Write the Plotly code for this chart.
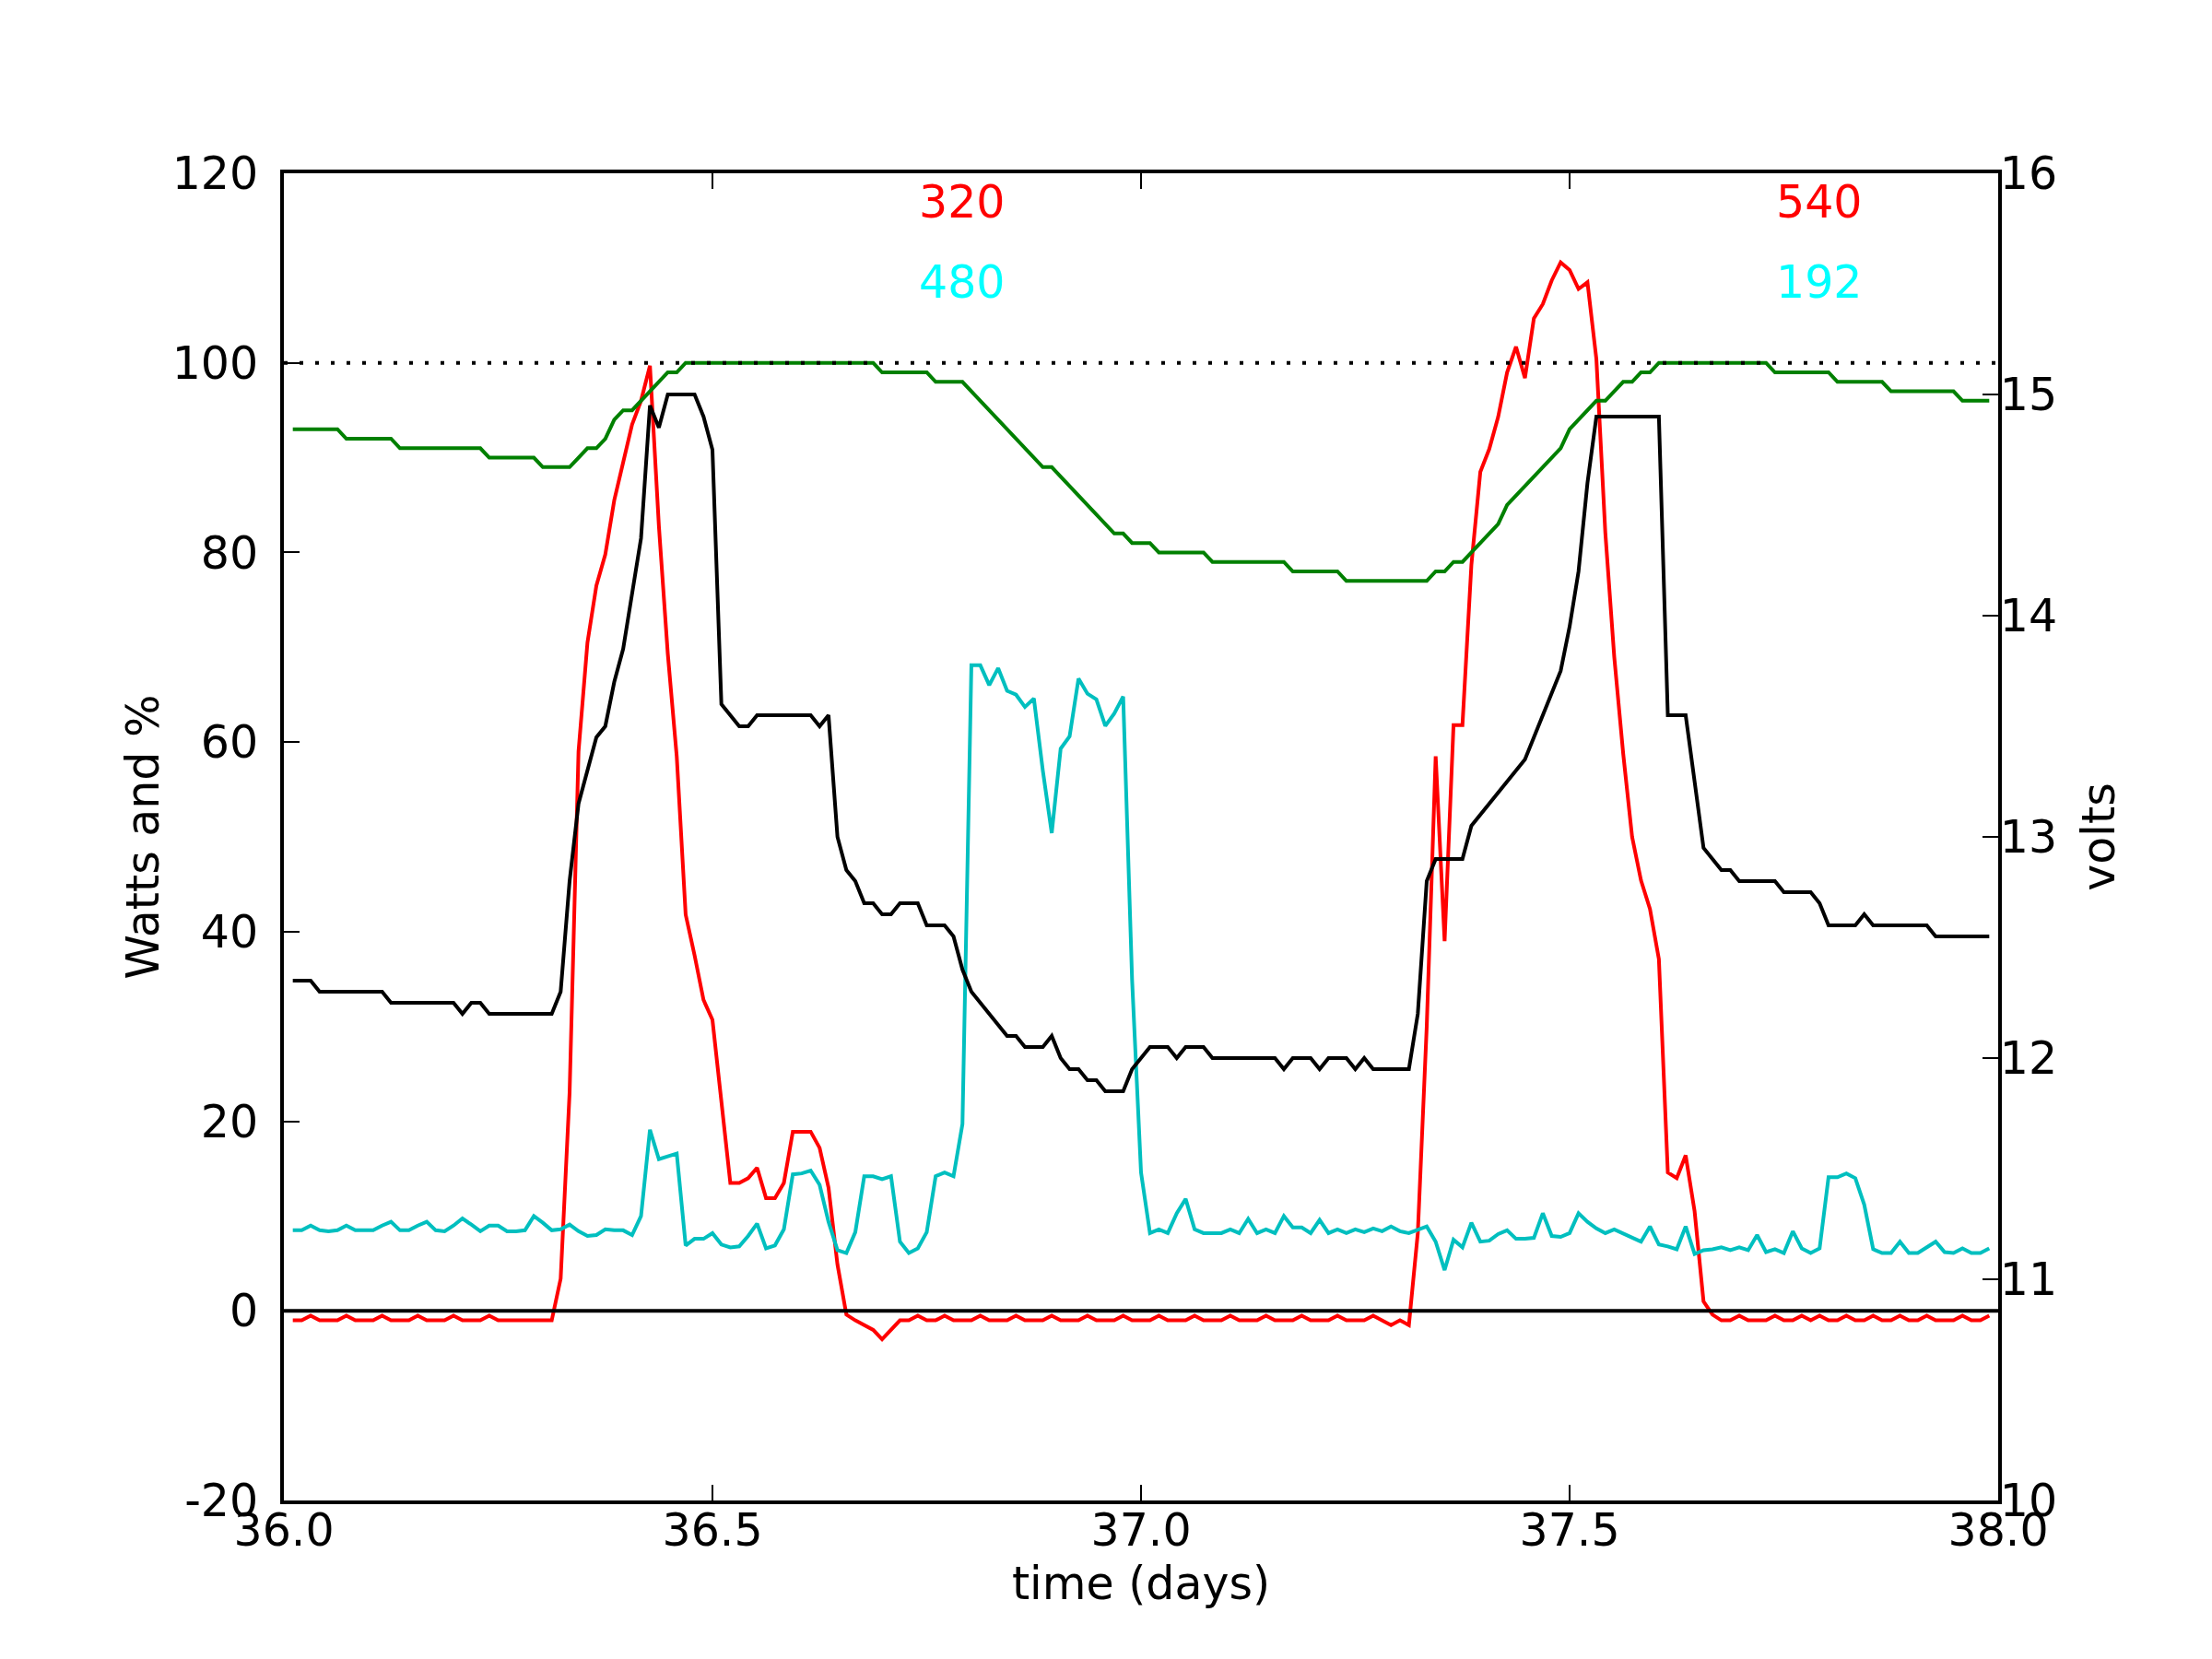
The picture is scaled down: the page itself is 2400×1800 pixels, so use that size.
import numpy as np
import plotly.graph_objects as go

# 15-minute samples (days)
t = 36 + np.arange(1, 192) / 96.0

watts_in = [
    -1, -1, -0.5, -1, -1, -1, -0.5, -1, -1, -1,
    -0.5, -1, -1, -1, -0.5, -1, -1, -1, -0.5, -1,
    -1, -1, -0.5, -1, -1, -1, -1, -1, -1, -1,
    3.4, 23, 59, 70.5, 76.5, 79.8, 85.5, 89.6, 93.5, 96,
    99.7, 82.8, 69.3, 58.5, 41.8, 37.5, 32.8, 30.7, 22.1, 13.5,
    13.5, 14, 15.1, 11.9, 11.9, 13.5, 18.9, 18.9, 18.9, 17.2,
    13, 4.9, -0.4, -1, -1.5, -2, -3, -2, -1, -1,
    -0.5, -1, -1, -0.5, -1, -1, -1, -0.5, -1, -1,
    -1, -0.5, -1, -1, -1, -0.5, -1, -1, -1, -0.5,
    -1, -1, -1, -0.5, -1, -1, -1, -0.5, -1, -1,
    -1, -0.5, -1, -1, -1, -0.5, -1, -1, -1, -0.5,
    -1, -1, -1, -0.5, -1, -1, -1, -0.5, -1, -1,
    -1, -0.5, -1, -1.5, -1, -1.5, 8.2, 30, 58.5, 39,
    61.8, 61.8, 78.7, 88.5, 90.9, 94.3, 99, 101.7, 98.4, 104.7,
    106.2, 108.7, 110.6, 109.8, 107.8, 108.5, 100.4, 82.1, 69, 58.8,
    50, 45.4, 42.4, 37.1, 14.6, 14, 16.4, 10.5, 1, -0.4,
    -1, -1, -0.5, -1, -1, -1, -0.5, -1, -1, -0.5,
    -1, -0.5, -1, -1, -0.5, -1, -1, -0.5, -1, -1,
    -0.5, -1, -1, -0.5, -1, -1, -1, -0.5, -1, -1, -0.5,
]

watts_out = [
    8.5, 8.5, 9, 8.5, 8.4, 8.5, 9, 8.5, 8.5, 8.5,
    9, 9.4, 8.5, 8.5, 9, 9.4, 8.5, 8.4, 9, 9.75,
    9.1, 8.4, 9, 9, 8.4, 8.4, 8.5, 10, 9.3, 8.5,
    8.6, 9.1, 8.4, 7.9, 8, 8.6, 8.5, 8.5, 8, 10,
    19.1, 16, 16.3, 16.6, 6.9, 7.6, 7.6, 8.2, 7, 6.7,
    6.8, 7.9, 9.2, 6.6, 6.9, 8.6, 14.4, 14.5, 14.8, 13.3,
    9.4, 6.4, 6.1, 8.3, 14.2, 14.2, 13.9, 14.2, 7.3, 6.1,
    6.6, 8.3, 14.2, 14.6, 14.2, 19.7, 68.1, 68.1, 66, 67.8,
    65.4, 65, 63.7, 64.6, 57, 50.4, 59.3, 60.6, 66.7, 65.1,
    64.5, 61.7, 63, 64.8, 34.9, 14.6, 8.2, 8.6, 8.2, 10.3,
    11.8, 8.6, 8.2, 8.2, 8.2, 8.6, 8.2, 9.7, 8.2, 8.6,
    8.2, 10, 8.8, 8.8, 8.2, 9.6, 8.2, 8.6, 8.2, 8.6,
    8.3, 8.7, 8.4, 8.9, 8.4, 8.2, 8.6, 8.9, 7.3, 4.3,
    7.5, 6.7, 9.3, 7.3, 7.4, 8.1, 8.5, 7.6, 7.6, 7.7,
    10.3, 7.9, 7.8, 8.2, 10.3, 9.4, 8.7, 8.2, 8.6, 8.2,
    7.7, 7.3, 8.9, 7, 6.8, 6.5, 8.9, 6, 6.4, 6.5,
    6.7, 6.4, 6.7, 6.4, 8, 6.2, 6.5, 6.1, 8.4, 6.6,
    6.1, 6.6, 14.1, 14.1, 14.5, 14, 11.2, 6.5, 6.1, 6.1,
    7.3, 6.1, 6.1, 6.7, 7.3, 6.2, 6.1, 6.6, 6.1, 6.1, 6.6,
]

charge_pct = [
    93, 93, 93, 93, 93, 93, 92, 92, 92, 92,
    92, 92, 91, 91, 91, 91, 91, 91, 91, 91,
    91, 91, 90, 90, 90, 90, 90, 90, 89, 89,
    89, 89, 90, 91, 91, 92, 94, 95, 95, 96,
    97, 98, 99, 99, 100, 100, 100, 100, 100, 100,
    100, 100, 100, 100, 100, 100, 100, 100, 100, 100,
    100, 100, 100, 100, 100, 100, 99, 99, 99, 99,
    99, 99, 98, 98, 98, 98, 97, 96, 95, 94,
    93, 92, 91, 90, 89, 89, 88, 87, 86, 85,
    84, 83, 82, 82, 81, 81, 81, 80, 80, 80,
    80, 80, 80, 79, 79, 79, 79, 79, 79, 79,
    79, 79, 78, 78, 78, 78, 78, 78, 77, 77,
    77, 77, 77, 77, 77, 77, 77, 77, 78, 78,
    79, 79, 80, 81, 82, 83, 85, 86, 87, 88,
    89, 90, 91, 93, 94, 95, 96, 96, 97, 98,
    98, 99, 99, 100, 100, 100, 100, 100, 100, 100,
    100, 100, 100, 100, 100, 100, 99, 99, 99, 99,
    99, 99, 99, 98, 98, 98, 98, 98, 98, 97,
    97, 97, 97, 97, 97, 97, 97, 96, 96, 96, 96,
]

volts = [
    12.35, 12.35, 12.35, 12.30, 12.30, 12.30, 12.30, 12.30, 12.30, 12.30,
    12.30, 12.25, 12.25, 12.25, 12.25, 12.25, 12.25, 12.25, 12.25, 12.20,
    12.25, 12.25, 12.20, 12.20, 12.20, 12.20, 12.20, 12.20, 12.20, 12.20,
    12.30, 12.80, 13.15, 13.30, 13.45, 13.50, 13.70, 13.85, 14.10, 14.35,
    14.95, 14.85, 15.00, 15.00, 15.00, 15.00, 14.90, 14.75, 13.60, 13.55,
    13.50, 13.50, 13.55, 13.55, 13.55, 13.55, 13.55, 13.55, 13.55, 13.50,
    13.55, 13.00, 12.85, 12.80, 12.70, 12.70, 12.65, 12.65, 12.70, 12.70,
    12.70, 12.60, 12.60, 12.60, 12.55, 12.40, 12.30, 12.25, 12.20, 12.15,
    12.10, 12.10, 12.05, 12.05, 12.05, 12.10, 12.00, 11.95, 11.95, 11.90,
    11.90, 11.85, 11.85, 11.85, 11.95, 12.00, 12.05, 12.05, 12.05, 12.00,
    12.05, 12.05, 12.05, 12.00, 12.00, 12.00, 12.00, 12.00, 12.00, 12.00,
    12.00, 11.95, 12.00, 12.00, 12.00, 11.95, 12.00, 12.00, 12.00, 11.95,
    12.00, 11.95, 11.95, 11.95, 11.95, 11.95, 12.20, 12.80, 12.90, 12.90,
    12.90, 12.90, 13.05, 13.10, 13.15, 13.20, 13.25, 13.30, 13.35, 13.45,
    13.55, 13.65, 13.75, 13.95, 14.20, 14.60, 14.90, 14.90, 14.90, 14.90,
    14.90, 14.90, 14.90, 14.90, 13.55, 13.55, 13.55, 13.25, 12.95, 12.90,
    12.85, 12.85, 12.80, 12.80, 12.80, 12.80, 12.80, 12.75, 12.75, 12.75,
    12.75, 12.70, 12.60, 12.60, 12.60, 12.60, 12.65, 12.60, 12.60, 12.60,
    12.60, 12.60, 12.60, 12.60, 12.55, 12.55, 12.55, 12.55, 12.55, 12.55, 12.55,
]

x_ticks = [36.0, 36.5, 37.0, 37.5, 38.0]
y_ticks = [-20, 0, 20, 40, 60, 80, 100, 120]
y2_ticks = [10, 11, 12, 13, 14, 15, 16]

notes_x = [36.75, 36.75, 37.75, 37.75]
notes_y = [116.2, 107.7, 116.2, 107.7]
notes_text = ["320", "480", "540", "192"]
notes_color = ["#ff0000", "#00ffff", "#ff0000", "#00ffff"]

FONT = "DejaVu Sans"
FS = 49
LW = 4

fig = go.Figure()
fig.add_trace(go.Scatter(x=t, y=watts_in, mode="lines",
                         line=dict(color="#ff0000", width=LW), showlegend=False))
fig.add_trace(go.Scatter(x=t, y=watts_out, mode="lines",
                         line=dict(color="#00bfbf", width=LW), showlegend=False))
fig.add_trace(go.Scatter(x=t, y=charge_pct, mode="lines",
                         line=dict(color="#008000", width=LW), showlegend=False))
fig.add_trace(go.Scatter(x=t, y=volts, mode="lines", yaxis="y2",
                         line=dict(color="#000000", width=LW), showlegend=False))

# reference lines
fig.add_shape(type="line", xref="x domain", yref="y", x0=0, x1=1, y0=100, y1=100,
              line=dict(color="black", width=LW, dash="4px,13px"), layer="above")
fig.add_shape(type="line", xref="x domain", yref="y", x0=0, x1=1, y0=0, y1=0,
              line=dict(color="black", width=LW), layer="above")

for xv, yv, tx, c in zip(notes_x, notes_y, notes_text, notes_color):
    fig.add_annotation(x=xv, y=yv, xref="x", yref="y", text=tx, showarrow=False,
                       xanchor="left", yanchor="middle", xshift=-11, yshift=8,
                       font=dict(family=FONT, size=FS, color=c))

axis_common = dict(showline=True, linecolor="black", linewidth=LW, showgrid=False,
                   zeroline=False, ticks="inside", ticklen=17, tickwidth=2,
                   tickcolor="black", tickfont=dict(family=FONT, size=FS, color="black"))

fig.update_layout(
    width=2400, height=1800,
    margin=dict(l=300, r=240, t=180, b=180, pad=0),
    paper_bgcolor="white", plot_bgcolor="white",
    font=dict(family=FONT, size=FS, color="black"),
    xaxis=dict(range=[36, 38], tickvals=x_ticks, ticktext=[f"{v:.1f}" for v in x_ticks],
               mirror="ticks", ticklabelstandoff=-14,
               title=dict(text="time (days)", font=dict(family=FONT, size=FS), standoff=14),
               **axis_common),
    yaxis=dict(range=[-20, 120], tickvals=y_ticks, ticktext=[str(v) for v in y_ticks],
               ticklabelstandoff=14,
               title=dict(text="Watts and %", font=dict(family=FONT, size=FS), standoff=0),
               **axis_common),
    yaxis2=dict(range=[10, 16], tickvals=y2_ticks, ticktext=[str(v) for v in y2_ticks],
                overlaying="y", side="right", ticklabelstandoff=-12,
                title=dict(text="volts", font=dict(family=FONT, size=FS), standoff=30),
                **axis_common),
)

fig.write_html("out.html")
